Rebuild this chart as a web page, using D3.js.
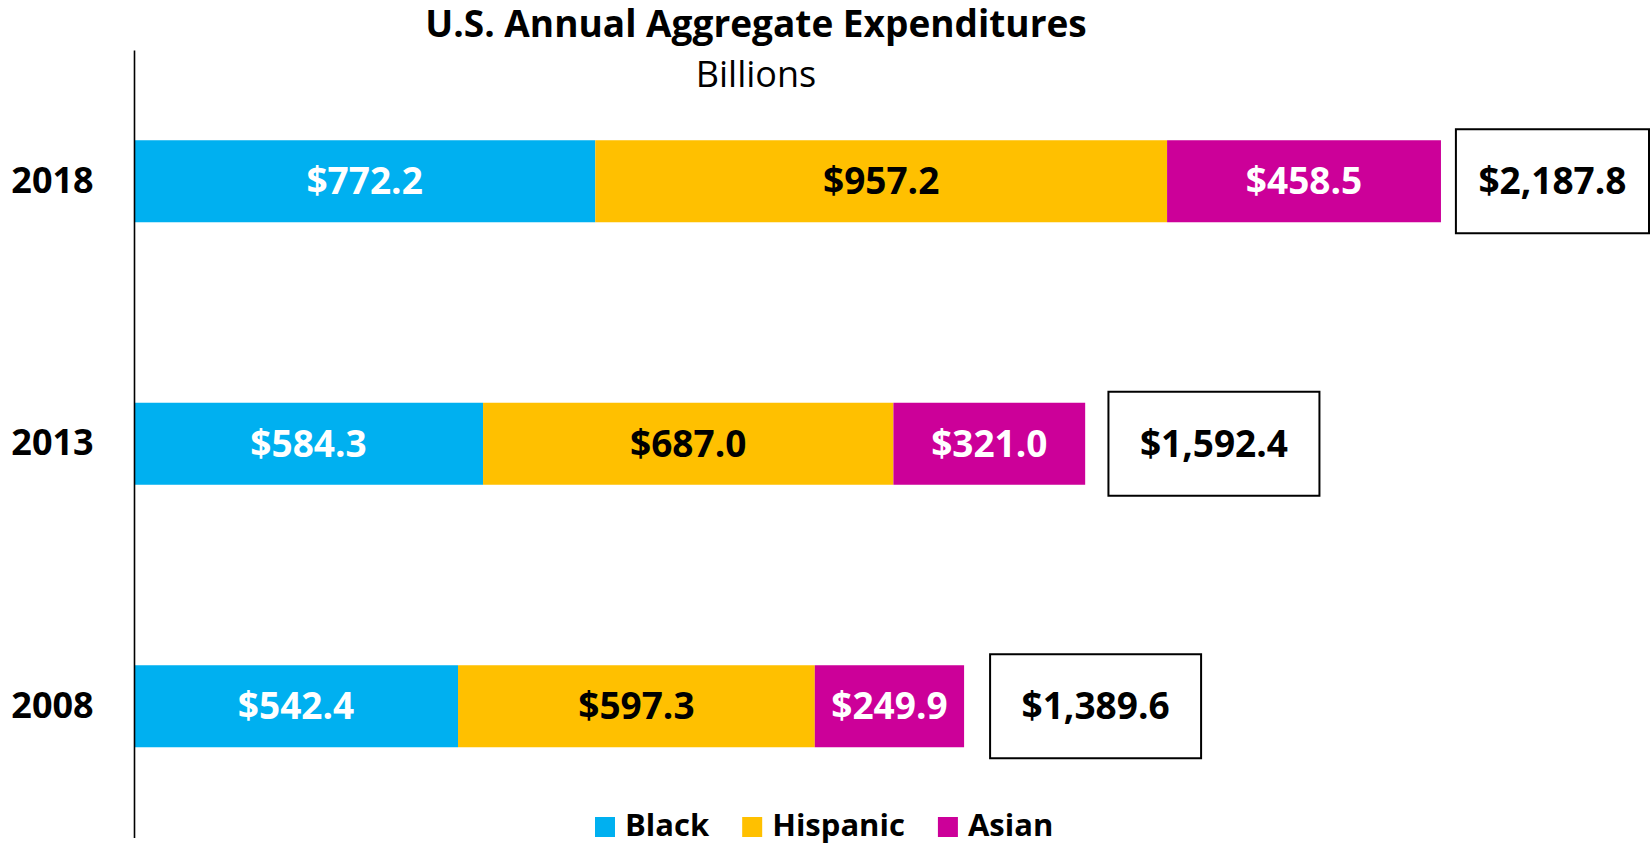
<!DOCTYPE html>
<html>
<head>
<meta charset="utf-8">
<script src="https://cdn.jsdelivr.net/npm/d3@7"></script>
<style>
  html, body { margin: 0; padding: 0; background: #fff; }
  svg { display: block; font-family: "Open Sans", sans-serif; }
</style>
</head>
<body>
<svg id="chart" width="1652" height="843"></svg>
<script>
// ---- data ----
const years = ["2018", "2013", "2008"];
const seriesNames = ["Black", "Hispanic", "Asian"];
const black = [772.2, 584.3, 542.4];
const hispanic = [957.2, 687.0, 597.3];
const asian = [458.5, 321.0, 249.9];
const totals = [2187.8, 1592.4, 1389.6];
const titleText = "U.S. Annual Aggregate Expenditures";
const subtitleText = "Billions";

// ---- styling ----
const colors = { Black: "#00B0F0", Hispanic: "#FFC000", Asian: "#CC0099" };
const labelColors = { Black: "#ffffff", Hispanic: "#000000", Asian: "#ffffff" };

const W = 1652, H = 843;
const svg = d3.select("#chart");

const x = d3.scaleLinear().domain([0, 2500]).range([134, 1627.4]);
const y = d3.scaleBand().domain(years).range([50, 837.5])
  .paddingInner(0.6876).paddingOuter(0.3438);
// spacing between bar end and total box (shrinks slightly for longer bars)
const boxGap = d3.scaleLinear().domain([1389.6, 2187.8]).range([26, 15]);

const rows = years.map((yr, i) => ({
  year: yr, Black: black[i], Hispanic: hispanic[i], Asian: asian[i], total: totals[i]
}));
const stack = d3.stack().keys(seriesNames)(rows);

// bars
const g = svg.append("g");
stack.forEach(layer => {
  const key = layer.key;
  g.selectAll(null).data(layer).join("rect")
    .attr("x", d => x(d[0]))
    .attr("y", d => y(d.data.year))
    .attr("width", d => x(d[1]) - x(d[0]))
    .attr("height", y.bandwidth())
    .attr("fill", colors[key]);
  g.selectAll(null).data(layer).join("text")
    .attr("x", d => (x(d[0]) + x(d[1])) / 2)
    .attr("y", d => y(d.data.year) + y.bandwidth() / 2)
    .attr("dy", "0.35em")
    .attr("text-anchor", "middle")
    .attr("font-weight", 700)
    .attr("font-size", 37)
    .attr("fill", labelColors[key])
    .text(d => "$" + d3.format(",.1f")(d.data[key]));
});

// total boxes
const fmtTotal = d3.format("$,.1f");
rows.forEach(r => {
  const bx = x(r.total) + boxGap(r.total);
  const bw = Math.min(211, W - 3 - bx);
  const by = y(r.year) - 11;
  const bh = y.bandwidth() + 22;
  svg.append("rect")
    .attr("x", bx).attr("y", by).attr("width", bw).attr("height", bh)
    .attr("fill", "#fff").attr("stroke", "#000").attr("stroke-width", 2);
  svg.append("text")
    .attr("x", bx + bw / 2)
    .attr("y", y(r.year) + y.bandwidth() / 2)
    .attr("dy", "0.35em")
    .attr("text-anchor", "middle")
    .attr("font-weight", 700)
    .attr("font-size", 37)
    .attr("fill", "#000")
    .text(fmtTotal(r.total));
});

// y axis (line + year labels)
const yAxis = d3.axisLeft(y).tickSize(0).tickPadding(0);
const ag = svg.append("g").attr("transform", `translate(${x(0)},0)`).call(yAxis);
ag.select(".domain").attr("stroke", "#000").attr("stroke-width", 1.6);
ag.selectAll(".tick text")
  .attr("x", 52.5 - x(0))
  .attr("text-anchor", "middle")
  .attr("font-family", "Open Sans, sans-serif")
  .attr("font-weight", 700)
  .attr("font-size", 36)
  .attr("fill", "#000");

// title
svg.append("text")
  .attr("x", 756).attr("y", 37)
  .attr("text-anchor", "middle")
  .attr("font-weight", 700)
  .attr("font-size", 37)
  .attr("fill", "#000")
  .text(titleText);
svg.append("text")
  .attr("x", 756).attr("y", 87)
  .attr("text-anchor", "middle")
  .attr("font-weight", 400)
  .attr("font-size", 36)
  .attr("fill", "#000")
  .text(subtitleText);

// legend
const lg = svg.append("g");
let lx = 595;
seriesNames.forEach(name => {
  lg.append("rect").attr("x", lx).attr("y", 817).attr("width", 20).attr("height", 20)
    .attr("fill", colors[name]);
  const t = lg.append("text").attr("x", lx + 30).attr("y", 836)
    .attr("font-weight", 700).attr("font-size", 31).attr("fill", "#000").text(name);
  lx = lx + 30 + t.node().getComputedTextLength() + 33;
});
</script>
</body>
</html>
